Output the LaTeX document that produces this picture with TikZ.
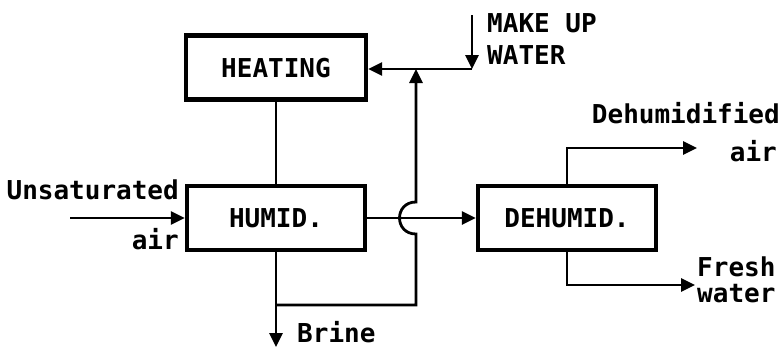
\documentclass[tikz,border=0pt]{standalone}
\usepackage{fontspec}
\setmonofont{DejaVu Sans Mono}
\usetikzlibrary{arrows.meta}
\begin{document}
\begin{tikzpicture}[x=1pt,y=-1pt,
  txt/.style={font=\fontsize{26}{28}\selectfont\ttfamily\bfseries, text height=19pt, text depth=0pt},
  box/.style={draw, line width=4.2pt, txt, inner sep=0pt, minimum height=64pt},
  flow/.style={line width=2.8pt},
  arr/.style={flow, -{Triangle[length=14pt,width=13pt]}},
  lbl/.style={txt, inner sep=0pt}]
\useasboundingbox[fill=white] (0,0) rectangle (781,348);
% boxes
\node[box, minimum width=180pt] (heating) at (276,67.5) {HEATING};
\node[box, minimum width=178pt] (humid) at (276,218) {HUMID.};
\node[box, minimum width=178pt] (dehumid) at (567,218) {DEHUMID.};
% coordinates
\coordinate (ua) at (70,218);
\coordinate (mu) at (472,15);
\coordinate (mc) at (472,69);
\coordinate (rj) at (416,69);
\coordinate (bj) at (276,305);
\coordinate (br) at (416,305);
\coordinate (brine) at (276,347);
\coordinate (da) at (697,148);
\coordinate (fw) at (695,285);
% connectors
\draw[flow] (heating) -- (humid);
\draw[arr] (ua) -- (humid.west);
\draw[arr] (mu) -- (mc);
\draw[flow] (mc) -- (rj);
\draw[arr] (rj) -- (rj -| heating.east);
\draw[arr] (humid.south) -- (brine);
\draw[arr] (bj) -- (br) -- (416,234) .. controls (394,234) and (394,202) .. (416,202) -- (rj);
\draw[arr] (humid.east) -- (dehumid.west);
\draw[arr] (dehumid.north) |- (da);
\draw[arr] (dehumid.south) |- (fw);
% labels
\node[lbl, anchor=east] (unsat) at (179,190) {Unsaturated};
\node[lbl, anchor=east] (air1) at (179,240) {air};
\node[lbl, anchor=west] (brinel) at (297,333) {Brine};
\node[lbl, anchor=west] (mk) at (487,23) {MAKE UP};
\node[lbl, anchor=west] (wt) at (487,55) {WATER};
\node[lbl, anchor=east] (dh) at (780,114) {Dehumidified};
\node[lbl, anchor=east] (air2) at (777,152) {air};
\node[lbl, anchor=west] (fr) at (697,267) {Fresh};
\node[lbl, anchor=west] (wa) at (697,293) {water};
\end{tikzpicture}
\end{document}
